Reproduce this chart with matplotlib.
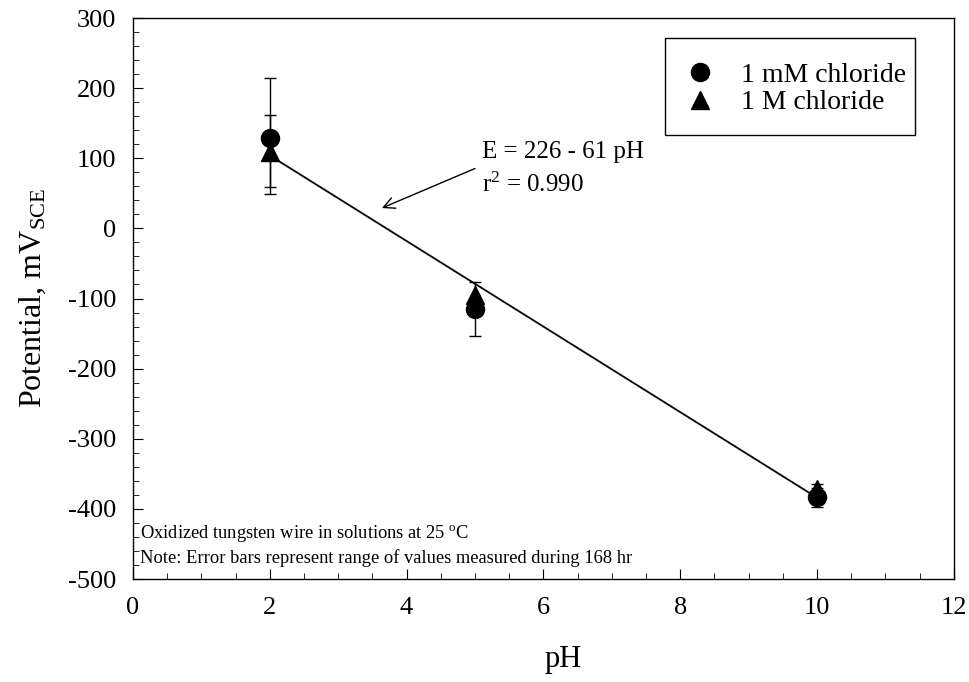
import matplotlib
matplotlib.use("Agg")
import matplotlib.pyplot as plt
from matplotlib.ticker import MultipleLocator
from matplotlib.patches import Rectangle

plt.rcParams['font.family'] = ['Liberation Serif', 'DejaVu Serif']
plt.rcParams['mathtext.fontset'] = 'custom'
plt.rcParams['mathtext.rm'] = 'Liberation Serif'
plt.rcParams['mathtext.it'] = 'Liberation Serif:italic'
plt.rcParams['axes.unicode_minus'] = False

# Data
ph = [2, 5, 10]
mM_chloride = [129, -115, -383]
mM_low = [59, -153, -397]
mM_high = [215, -100, -370]
M_chloride = [109, -95, -372]
M_low = [49, -105, -392]
M_high = [161, -76, -365]
fit_ph = [2, 10]
fit_E = [104, -384]

fig = plt.figure(figsize=(9.7, 6.82), dpi=100)
ax = fig.add_axes([0.137, 0.151, 0.8464, 0.8226])

ax.plot(fit_ph, fit_E, color='black', lw=1.3, zorder=2)

err_c = [[v - lo for v, lo in zip(mM_chloride, mM_low)], [hi - v for v, hi in zip(mM_chloride, mM_high)]]
err_t = [[v - lo for v, lo in zip(M_chloride, M_low)], [hi - v for v, hi in zip(M_chloride, M_high)]]
ax.errorbar(ph, mM_chloride, yerr=err_c, fmt='none', ecolor='black', capsize=4,
            elinewidth=1, capthick=1, zorder=3)
ax.errorbar(ph, M_chloride, yerr=err_t, fmt='none', ecolor='black', capsize=4,
            elinewidth=1, capthick=1, zorder=3)
h1, = ax.plot(ph, mM_chloride, 'o', color='black', ms=13, zorder=4, label='1 mM chloride')
h2, = ax.plot(ph, M_chloride, '^', color='black', ms=13, zorder=4, label='1 M chloride')

ax.set_xlim(0, 12)
ax.set_ylim(-500, 300)
ax.xaxis.set_major_locator(MultipleLocator(2))
ax.xaxis.set_minor_locator(MultipleLocator(0.5))
ax.yaxis.set_major_locator(MultipleLocator(100))
ax.yaxis.set_minor_locator(MultipleLocator(20))
ax.tick_params(which='both', direction='in', top=False, right=False, labelsize=19)
ax.tick_params(axis='y', pad=12)
ax.tick_params(axis='x', pad=13)
ax.tick_params(which='major', length=7)
ax.tick_params(which='minor', length=4)
for s in ax.spines.values():
    s.set_linewidth(1.0)

ax.set_xlabel('pH', fontsize=22)
ax.xaxis.set_label_coords(0.524, -0.118)
ax.set_ylabel(r'Potential, mV$_{\mathrm{SCE}}$', fontsize=23, labelpad=14)

# legend frame and entries
ax.add_patch(Rectangle((0.648, 0.7914), 0.3045, 0.1729, transform=ax.transAxes,
                       facecolor='white', edgecolor='black', lw=1.0, zorder=5))
leg = ax.legend(handles=[h1, h2], loc='center left', bbox_to_anchor=(0.6736, 0.8735),
                fontsize=20, frameon=False, borderpad=0, borderaxespad=0,
                handletextpad=1.0, labelspacing=0.06, handlelength=1.0)
leg.set_zorder(6)

ax.annotate('', xy=(3.64, 29), xytext=(5.0, 85.4),
            arrowprops=dict(arrowstyle='->', color='black', lw=1, shrinkA=0, shrinkB=0,
                            mutation_scale=20))
ax.text(5.1, 109, 'E = 226 - 61 pH', fontsize=18, va='center', ha='left')
ax.text(5.1, 62, 'r$^2$ = 0.990', fontsize=18, va='center', ha='left')

ax.text(0.1, -435, 'Oxidized tungsten wire in solutions at 25 $^{\\mathrm{o}}$C', fontsize=13.3, va='center')
ax.text(0.1, -470, 'Note: Error bars represent range of values measured during 168 hr', fontsize=13.3, va='center')

fig.savefig('out.png', dpi=100)
